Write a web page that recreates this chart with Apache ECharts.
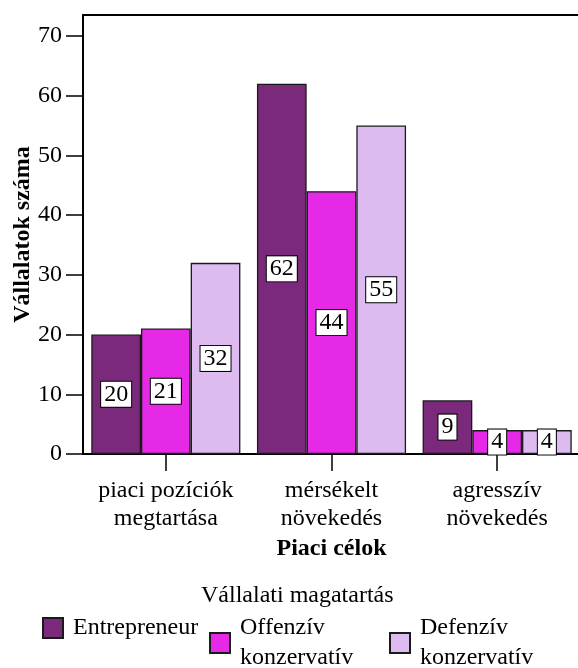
<!DOCTYPE html>
<html>
<head>
<meta charset="utf-8">
<script src="https://cdn.jsdelivr.net/npm/echarts@6/dist/echarts.min.js"></script>
<style>
html,body{margin:0;padding:0;background:#fff;}
#c{width:578px;height:668px;}
</style>
</head>
<body>
<div id="c"></div>
<script>
const categories = ['piaci pozíciók\nmegtartása', 'mérsékelt\nnövekedés', 'agresszív\nnövekedés'];
const seriesNames = ['Entrepreneur', 'Offenzív\nkonzervatív', 'Defenzív\nkonzervatív'];
const entrepreneur = [20, 62, 9];
const offenziv = [21, 44, 4];
const defenziv = [32, 55, 4];
const yTicks = [0, 10, 20, 30, 40, 50, 60, 70];
const colors = ['#7B297B', '#E629E6', '#DDBBF0'];

const FONT = "'Liberation Serif', 'Times New Roman', serif";
const chart = echarts.init(document.getElementById('c'), null, {renderer: 'canvas'});

function mkSeries(name, data, color) {
  return {
    name: name,
    type: 'bar',
    data: data,
    barGap: '0%',
    barCategoryGap: '10%',
    itemStyle: {color: color, borderColor: '#1a1a1a', borderWidth: 1.3},
    label: {
      show: true, position: 'inside', formatter: '{c}',
      color: '#000', fontFamily: FONT, fontSize: 24, lineHeight: 24,
      backgroundColor: '#fff', borderColor: '#000', borderWidth: 1,
      padding: [1, 3, 0, 3]
    },
    emphasis: {disabled: true}
  };
}

function mkLegend(name, left, top) {
  return {
    data: [name], left: left, top: top, padding: 0,
    icon: 'rect', itemWidth: 20, itemHeight: 20,
    selectedMode: false,
    textStyle: {fontFamily: FONT, fontSize: 24, lineHeight: 30, color: '#000', padding: [0, 0, 0, 5]}
  };
}

chart.setOption({
  animation: false,
  backgroundColor: '#fff',
  title: {
    text: 'Vállalati magatartás', left: 201, top: 583, padding: 0,
    textStyle: {fontFamily: FONT, fontSize: 24, fontWeight: 'normal', color: '#000', lineHeight: 26}
  },
  legend: [
    mkLegend(seriesNames[0], 42, 613),
    mkLegend(seriesNames[1], 209, 613),
    mkLegend(seriesNames[2], 389, 613)
  ],
  grid: {left: 83, top: 15, width: 497, bottom: 214, containLabel: false, outerBoundsMode: 'none'},
  xAxis: [{
    type: 'category',
    data: categories,
    name: 'Piaci célok',
    nameLocation: 'middle',
    nameGap: 83,
    nameMoveOverlap: false,
    nameTextStyle: {fontFamily: FONT, fontSize: 24, fontWeight: 'bold', color: '#000'},
    axisLine: {show: true, lineStyle: {color: '#000', width: 2}},
    axisTick: {show: true, alignWithLabel: true, length: 17, lineStyle: {color: '#000', width: 1.5}},
    axisLabel: {fontFamily: FONT, fontSize: 24, lineHeight: 28, color: '#000', margin: 23, interval: 0},
    splitLine: {show: false}
  }, {
    type: 'category',
    data: categories,
    position: 'top',
    axisLine: {show: true, lineStyle: {color: '#000', width: 2}},
    axisTick: {show: false},
    axisLabel: {show: false},
    splitLine: {show: false}
  }],
  yAxis: {
    type: 'value',
    min: 0, max: 73.5, interval: 10,
    name: 'Vállalatok száma',
    nameLocation: 'middle',
    nameGap: 48,
    nameMoveOverlap: false,
    nameTextStyle: {fontFamily: FONT, fontSize: 24, fontWeight: 'bold', color: '#000'},
    axisLine: {show: true, lineStyle: {color: '#000', width: 2}},
    axisTick: {show: true, length: 17, lineStyle: {color: '#000', width: 1.5}, customValues: yTicks},
    axisLabel: {fontFamily: FONT, fontSize: 24, color: '#000', margin: 21, customValues: yTicks},
    splitLine: {show: false}
  },
  series: [
    mkSeries(seriesNames[0], entrepreneur, colors[0]),
    mkSeries(seriesNames[1], offenziv, colors[1]),
    mkSeries(seriesNames[2], defenziv, colors[2])
  ]
});
</script>
</body>
</html>
